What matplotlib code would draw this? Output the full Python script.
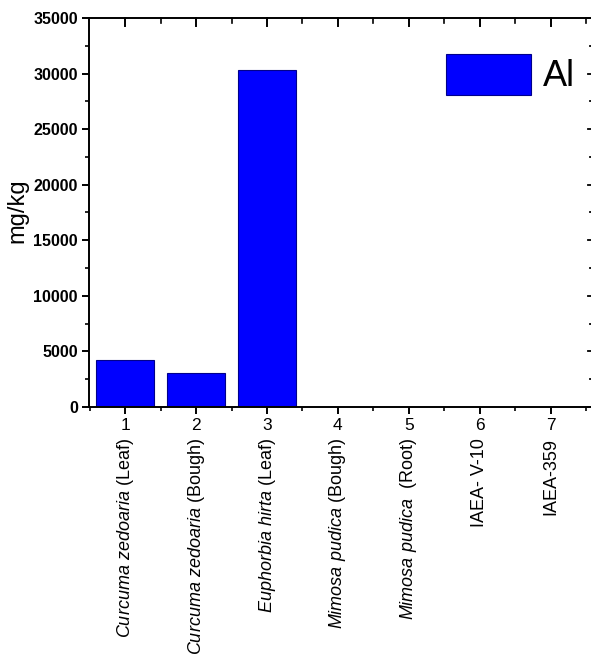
import matplotlib
matplotlib.use("Agg")
import matplotlib.pyplot as plt
from matplotlib.ticker import MultipleLocator

plt.rcParams["font.family"] = ["Liberation Sans", "DejaVu Sans"]
plt.rcParams["mathtext.fontset"] = "custom"
plt.rcParams["mathtext.rm"] = "Liberation Sans"
plt.rcParams["mathtext.it"] = "Liberation Sans:italic"

# Al content per sample (mg/kg)
positions = [1, 2, 3, 4, 5, 6, 7]
al_values = [4230, 3080, 30300, 0, 0, 0, 0]
sample_names = [
    r"$\it{Curcuma\ zedoaria}$ (Leaf)",
    r"$\it{Curcuma\ zedoaria}$ (Bough)",
    r"$\it{Euphorbia\ hirta}$ (Leaf)",
    r"$\it{Mimosa\ pudica}$ (Bough)",
    r"$\it{Mimosa\ pudica}$  (Root)",
    "IAEA- V-10",
    "IAEA-359",
]

fig = plt.figure(figsize=(5.91, 6.56), dpi=100)
ax = fig.add_axes([0.1506, 0.3796, 0.852, 0.593])

ax.bar(positions, al_values, width=0.82, color="#0000FF", edgecolor="#00008B",
       linewidth=0.8, label="Al")

ax.set_xlim(0.49, 7.59)
ax.set_ylim(0, 35000)
ax.set_xticks(positions)
ax.set_xticklabels([str(p) for p in positions], fontsize=12.5)
ax.xaxis.set_minor_locator(MultipleLocator(0.5))
ax.yaxis.set_major_locator(MultipleLocator(5000))
ax.yaxis.set_minor_locator(MultipleLocator(2500))
for lbl in ax.get_yticklabels():
    lbl.set_fontweight("bold")
    lbl.set_fontsize(11.5)

for side in ax.spines.values():
    side.set_linewidth(1.4)

# outward ticks on the bottom/left, inward on the top/right
ax.tick_params(which="major", length=5, width=1.4)
ax.tick_params(which="minor", length=3, width=1.2)
ax.tick_params(axis="x", which="both", direction="out", top=False, pad=3)
ax.tick_params(axis="y", which="both", direction="out", right=False, pad=3)
for xt in positions:
    ax.plot([xt, xt], [1, 0.98], transform=ax.get_xaxis_transform(),
            color="black", lw=1.4, clip_on=False)
for xt in [p + 0.5 for p in positions]:
    ax.plot([xt, xt], [1, 0.988], transform=ax.get_xaxis_transform(),
            color="black", lw=1.2, clip_on=False)
for yt in range(0, 35001, 2500):
    frac = 0.99 if yt % 5000 == 0 else 0.994
    ax.plot([frac, 1], [yt, yt], transform=ax.get_yaxis_transform(),
            color="black", lw=1.3, clip_on=False)

ax.set_ylabel("mg/kg", fontsize=17, labelpad=3)
ax.yaxis.set_label_coords(-0.12, 0.505)

for x, name in zip(positions, sample_names):
    ax.text(x, -0.08, name, transform=ax.get_xaxis_transform(), rotation=90,
            ha="center", va="top", fontsize=13)

ax.legend(loc="upper right", bbox_to_anchor=(1.009, 0.963), frameon=False,
          fontsize=26, handlelength=2.35, handleheight=1.35, handletextpad=0.35,
          borderaxespad=0.2)

fig.savefig("out.png", dpi=100)
